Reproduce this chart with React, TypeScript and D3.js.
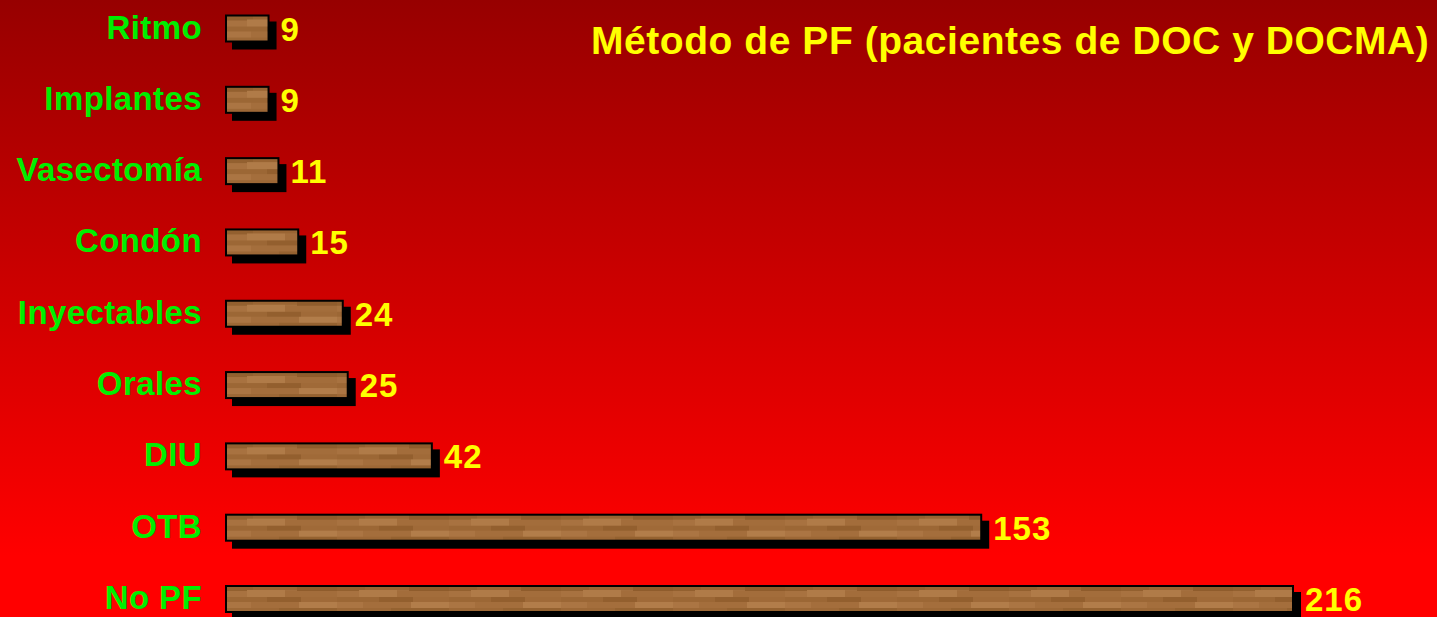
import React from 'react';
import * as d3 from 'd3';

const categories = ['Ritmo', 'Implantes', 'Vasectomía', 'Condón', 'Inyectables', 'Orales', 'DIU', 'OTB', 'No PF'];
const values = [9, 9, 11, 15, 24, 25, 42, 153, 216];
const title = 'Método de PF (pacientes de DOC y DOCMA)';

// wood grain blocks for the bar texture (decoration only)
const grain = [
  { x: 0, y: 0, w: 28, h: 6, c: '#93602f' },
  { x: 28, y: 0, w: 44, h: 5, c: '#9a6533' },
  { x: 72, y: 0, w: 40, h: 6, c: '#8f5c2c' },
  { x: 0, y: 6, w: 22, h: 6, c: '#a87240' },
  { x: 22, y: 5, w: 38, h: 7, c: '#b07b48' },
  { x: 60, y: 6, w: 52, h: 6, c: '#a36d3b' },
  { x: 0, y: 12, w: 42, h: 5, c: '#9c6735' },
  { x: 42, y: 12, w: 34, h: 5, c: '#935f2e' },
  { x: 76, y: 12, w: 36, h: 5, c: '#a06a38' },
  { x: 0, y: 17, w: 26, h: 6, c: '#ab7543' },
  { x: 26, y: 17, w: 48, h: 6, c: '#a46e3c' },
  { x: 74, y: 17, w: 38, h: 6, c: '#b27d4a' },
  { x: 0, y: 23, w: 54, h: 5, c: '#9d6836' },
  { x: 54, y: 23, w: 58, h: 5, c: '#956230' },
];

const W = 1437;
const H = 617;
const barH = 28;

export default function App() {
  const x = d3.scaleLinear().domain([0, 216]).range([225, 1294]);
  const y = d3.scalePoint<string>().domain(categories).range([28.5, 599]);

  return (
    <svg width={W} height={H} style={{ position: 'absolute', left: 0, top: 0 }}
      fontFamily="'Liberation Sans', Arial, sans-serif" fontWeight="bold">
      <defs>
        <linearGradient id="bg" x1="0" y1="0" x2="0" y2={H} gradientUnits="userSpaceOnUse">
          <stop offset="0" stopColor="#970000" />
          <stop offset="0.9" stopColor="#ff0000" />
          <stop offset="1" stopColor="#ff0000" />
        </linearGradient>
        <pattern id="wood" patternUnits="userSpaceOnUse" width={112} height={barH}>
          <rect width={112} height={barH} fill="#a46f3e" />
          {grain.map((g, i) => (
            <rect key={i} x={g.x} y={g.y} width={g.w} height={g.h} fill={g.c} />
          ))}
        </pattern>
      </defs>
      <rect width={W} height={H} fill="url(#bg)" />
      <text x={591} y={54} fill="#ffff00" fontSize={39} letterSpacing={0.55}>{title}</text>
      {categories.map((c, i) => {
        const cy = y(c)!;
        const top = cy - barH / 2;
        const w = x(values[i]) - x(0);
        return (
          <g key={c}>
            <text x={202} y={cy + 10} textAnchor="end" fill="#00ee00" fontSize={33} letterSpacing={0.4}>{c}</text>
            <rect x={x(0) + 7} y={top + 7} width={w} height={barH} fill="#000" />
            <g transform={`translate(${x(0)},${top})`}>
              <rect x={1} y={1} width={w - 2} height={barH - 2} fill="url(#wood)" stroke="#000" strokeWidth={2} />
            </g>
            <text x={x(values[i]) + 11} y={cy + 12} fill="#ffff00" fontSize={33} letterSpacing={1}>{values[i]}</text>
          </g>
        );
      })}
    </svg>
  );
}
